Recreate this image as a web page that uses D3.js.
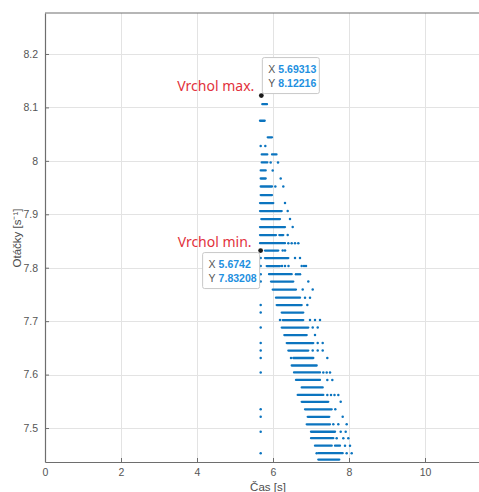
<!DOCTYPE html>
<meta charset="utf-8">
<style>
body { margin: 0; background: #fff; }
svg { display: block; font-family: "Liberation Sans", Arial, sans-serif; }
.tick text { fill: #555; font-size: 10.5px; }
.grid line { stroke: #e3e3e3; stroke-width: 1; }
.tipbox { fill: #fff; stroke: #c8c8c8; stroke-width: 1; }
.tipkey { fill: #555; font-size: 10.5px; }
.tipval { fill: #1e90e0; font-size: 10.5px; font-weight: bold; }
.peak { fill: #e2313b; font-family: "Noto Sans", sans-serif; font-size: 14px; }
</style>
<svg width="479" height="492"></svg>
<script src="https://d3js.org/d3.v7.min.js"></script>
<script>

// speed levels (one row of samples each), top to bottom
var rowSpeed = [8.106, 8.075, 8.044, 8.028, 8.012, 7.997, 7.982, 7.967, 7.952, 7.936,
    7.921, 7.906, 7.891, 7.876, 7.861, 7.846, 7.832, 7.818, 7.803, 7.788,
    7.774, 7.759, 7.744, 7.730, 7.716, 7.702, 7.688, 7.674, 7.659, 7.645,
    7.631, 7.617, 7.604, 7.590, 7.576, 7.562, 7.549, 7.535, 7.521, 7.507,
    7.493, 7.481, 7.467, 7.453, 7.441];

// dense runs of samples on each row: [time from, time to]
var rowRuns = [
    [[5.718, 5.842]], [[5.658, 5.782]], [[5.861, 5.974]], [],
    [[5.703, 5.850], [5.974, 6.092]], [[5.703, 5.850]], [[5.676, 5.808]], [[5.676, 5.808]],
    [[5.676, 5.974]], [[5.676, 5.974]], [[5.658, 6.008]], [[5.658, 6.229]],
    [[5.692, 6.184]], [[5.658, 6.316]], [[5.658, 6.079], [6.166, 6.271]], [[5.658, 6.316]],
    [[5.789, 6.139]], [[5.789, 6.403]], [[5.834, 6.184]], [[5.895, 6.492]],
    [[5.947, 6.534]], [[5.992, 6.605]], [[6.079, 6.711]], [[6.097, 6.755]],
    [[6.229, 6.797]], [[6.255, 6.797]], [[6.229, 6.929]], [[6.297, 6.887]],
    [[6.361, 7.061]], [[6.403, 6.929]], [[6.534, 7.061]], [[6.492, 7.150]],
    [[6.553, 7.237]], [[6.605, 7.237]], [[6.755, 7.308]], [[6.650, 7.324]],
    [[6.755, 7.455]], [[6.842, 7.545]], [[6.913, 7.482]], [[6.887, 7.500]],
    [[7.000, 7.632]], [[7.000, 7.587]], [[7.105, 7.545], [7.632, 7.763]], [[7.192, 7.834]],
    [[7.192, 7.745]]
];

// single samples on each row (time)
var rowDots = [
    [], [], [], [5.676, 5.797], [], [5.939, 6.132], [5.992], [6.203],
    [6.061, 6.271], [], [6.316], [6.387], [6.447], [6.518], [6.387],
    [6.403, 6.492, 6.579, 6.666], [6.255, 6.316], [5.676, 6.579, 6.711],
    [5.676, 6.237, 6.316, 6.408, 6.755, 6.816, 6.868], [5.676, 6.605, 6.658, 6.711],
    [5.676, 6.929], [6.782, 7.045], [6.842, 6.974], [5.676, 6.903], [5.676],
    [6.184, 6.974, 7.105, 7.237], [5.676, 7.045, 7.176], [7.105], [5.676, 7.176, 7.308],
    [5.676, 7.045, 7.176, 7.308], [5.676, 6.474, 7.429], [], [5.676, 7.324, 7.413, 7.500],
    [7.429, 7.561], [], [7.429, 7.526, 7.618, 7.718], [7.782], [5.676, 7.639],
    [5.676, 7.834], [7.587, 7.718, 7.939], [5.676, 7.782, 7.913], [7.676, 7.850, 7.982],
    [7.895, 8.026], [5.676, 7.150, 7.939, 8.071], []
];

// data tips
var tipX = [5.69313, 5.6742];
var tipY = [8.12216, 7.83208];
var tipXText = ["5.69313", "5.6742"];
var tipYText = ["8.12216", "7.83208"];
var tipName = ["Vrchol max.", "Vrchol min."];

var xTicks = [0, 2, 4, 6, 8, 10];
var yTicks = [7.5, 7.6, 7.7, 7.8, 7.9, 8, 8.1, 8.2];

var svg = d3.select("svg");
var padLeft = 45, padTop = 13, padBottom = 462;

var x = d3.scaleLinear().domain([0, 11.5]).range([padLeft, padLeft + 11.5 * 38]);
var y = d3.scaleLinear().domain([7.4364, 8.2767]).range([padBottom, padTop]);
var padRight = x.range()[1];

// grid
var grid = svg.append("g").attr("class", "grid");
grid.selectAll(".gx").data(xTicks.slice(1)).enter().append("line")
    .attr("x1", d => x(d) + 0.5).attr("x2", d => x(d) + 0.5)
    .attr("y1", padTop).attr("y2", padBottom);
grid.selectAll(".gy").data(yTicks).enter().append("line")
    .attr("x1", padLeft).attr("x2", padRight)
    .attr("y1", d => Math.round(y(d)) + 0.5).attr("y2", d => Math.round(y(d)) + 0.5);

// samples
var color = "#0b74bf";
var plot = svg.append("g");
rowSpeed.forEach(function(v, i) {
    plot.selectAll(null).data(rowRuns[i]).enter().append("line")
        .attr("x1", d => x(d[0])).attr("x2", d => x(d[1]))
        .attr("y1", y(v)).attr("y2", y(v))
        .attr("stroke", color).attr("stroke-width", 2.3).attr("stroke-linecap", "round");
    plot.selectAll(null).data(rowDots[i]).enter().append("circle")
        .attr("cx", d => x(d)).attr("cy", y(v)).attr("r", 1.25)
        .attr("fill", color);
});

// axes (inward ticks like the original)
var xAxis = svg.append("g").attr("transform", "translate(0," + padBottom + ")")
    .call(d3.axisBottom(x).tickValues(xTicks).tickSizeInner(-4).tickSizeOuter(0).tickPadding(7));
var yAxis = svg.append("g").attr("transform", "translate(" + padLeft + ",0)")
    .call(d3.axisLeft(y).tickValues(yTicks).tickFormat(d3.format("")).tickSizeInner(-4).tickSizeOuter(0).tickPadding(7));
[xAxis, yAxis].forEach(function(a) {
    a.select(".domain").attr("stroke", "#6e6e6e").attr("stroke-width", 1.2);
    a.selectAll(".tick line").attr("stroke", "#6e6e6e");
});
svg.append("line").attr("x1", padLeft).attr("x2", padRight).attr("y1", padTop).attr("y2", padTop)
    .attr("stroke", "#6e6e6e").attr("stroke-width", 1.2);

// axis labels
svg.append("text").attr("x", 268).attr("y", 491).attr("text-anchor", "middle")
    .attr("fill", "#4d4d4d").attr("font-size", 11.5).text("Čas [s]");
svg.append("text").attr("transform", "translate(21,238) rotate(-90)").attr("text-anchor", "middle")
    .attr("fill", "#4d4d4d").attr("font-size", 11.5).text("Otáčky [s⁻¹]");

// data tips
var tips = [
    {i: 0, bx: 1, by: -38, lx: -7, ly: -5, anchor: "end"},
    {i: 1, bx: -58, by: 2, lx: -9, ly: -4, anchor: "end"}
];
tips.forEach(function(t) {
    var px = x(tipX[t.i]), py = y(tipY[t.i]);
    var g = svg.append("g").attr("transform", "translate(" + (px + t.bx) + "," + (py + t.by) + ")");
    g.append("rect").attr("class", "tipbox").attr("width", 57).attr("height", 36).attr("rx", 2);
    g.append("text").attr("class", "tipkey").attr("x", 6).attr("y", 15).text("X");
    g.append("text").attr("class", "tipval").attr("x", 16).attr("y", 15).text(tipXText[t.i]);
    g.append("text").attr("class", "tipkey").attr("x", 6).attr("y", 29).text("Y");
    g.append("text").attr("class", "tipval").attr("x", 16).attr("y", 29).text(tipYText[t.i]);
    svg.append("circle").attr("cx", px).attr("cy", py).attr("r", 2.4).attr("fill", "#1a1a1a");
    svg.append("text").attr("class", "peak").attr("x", px + t.lx).attr("y", py + t.ly)
        .attr("text-anchor", t.anchor).text(tipName[t.i]);
});

</script>
